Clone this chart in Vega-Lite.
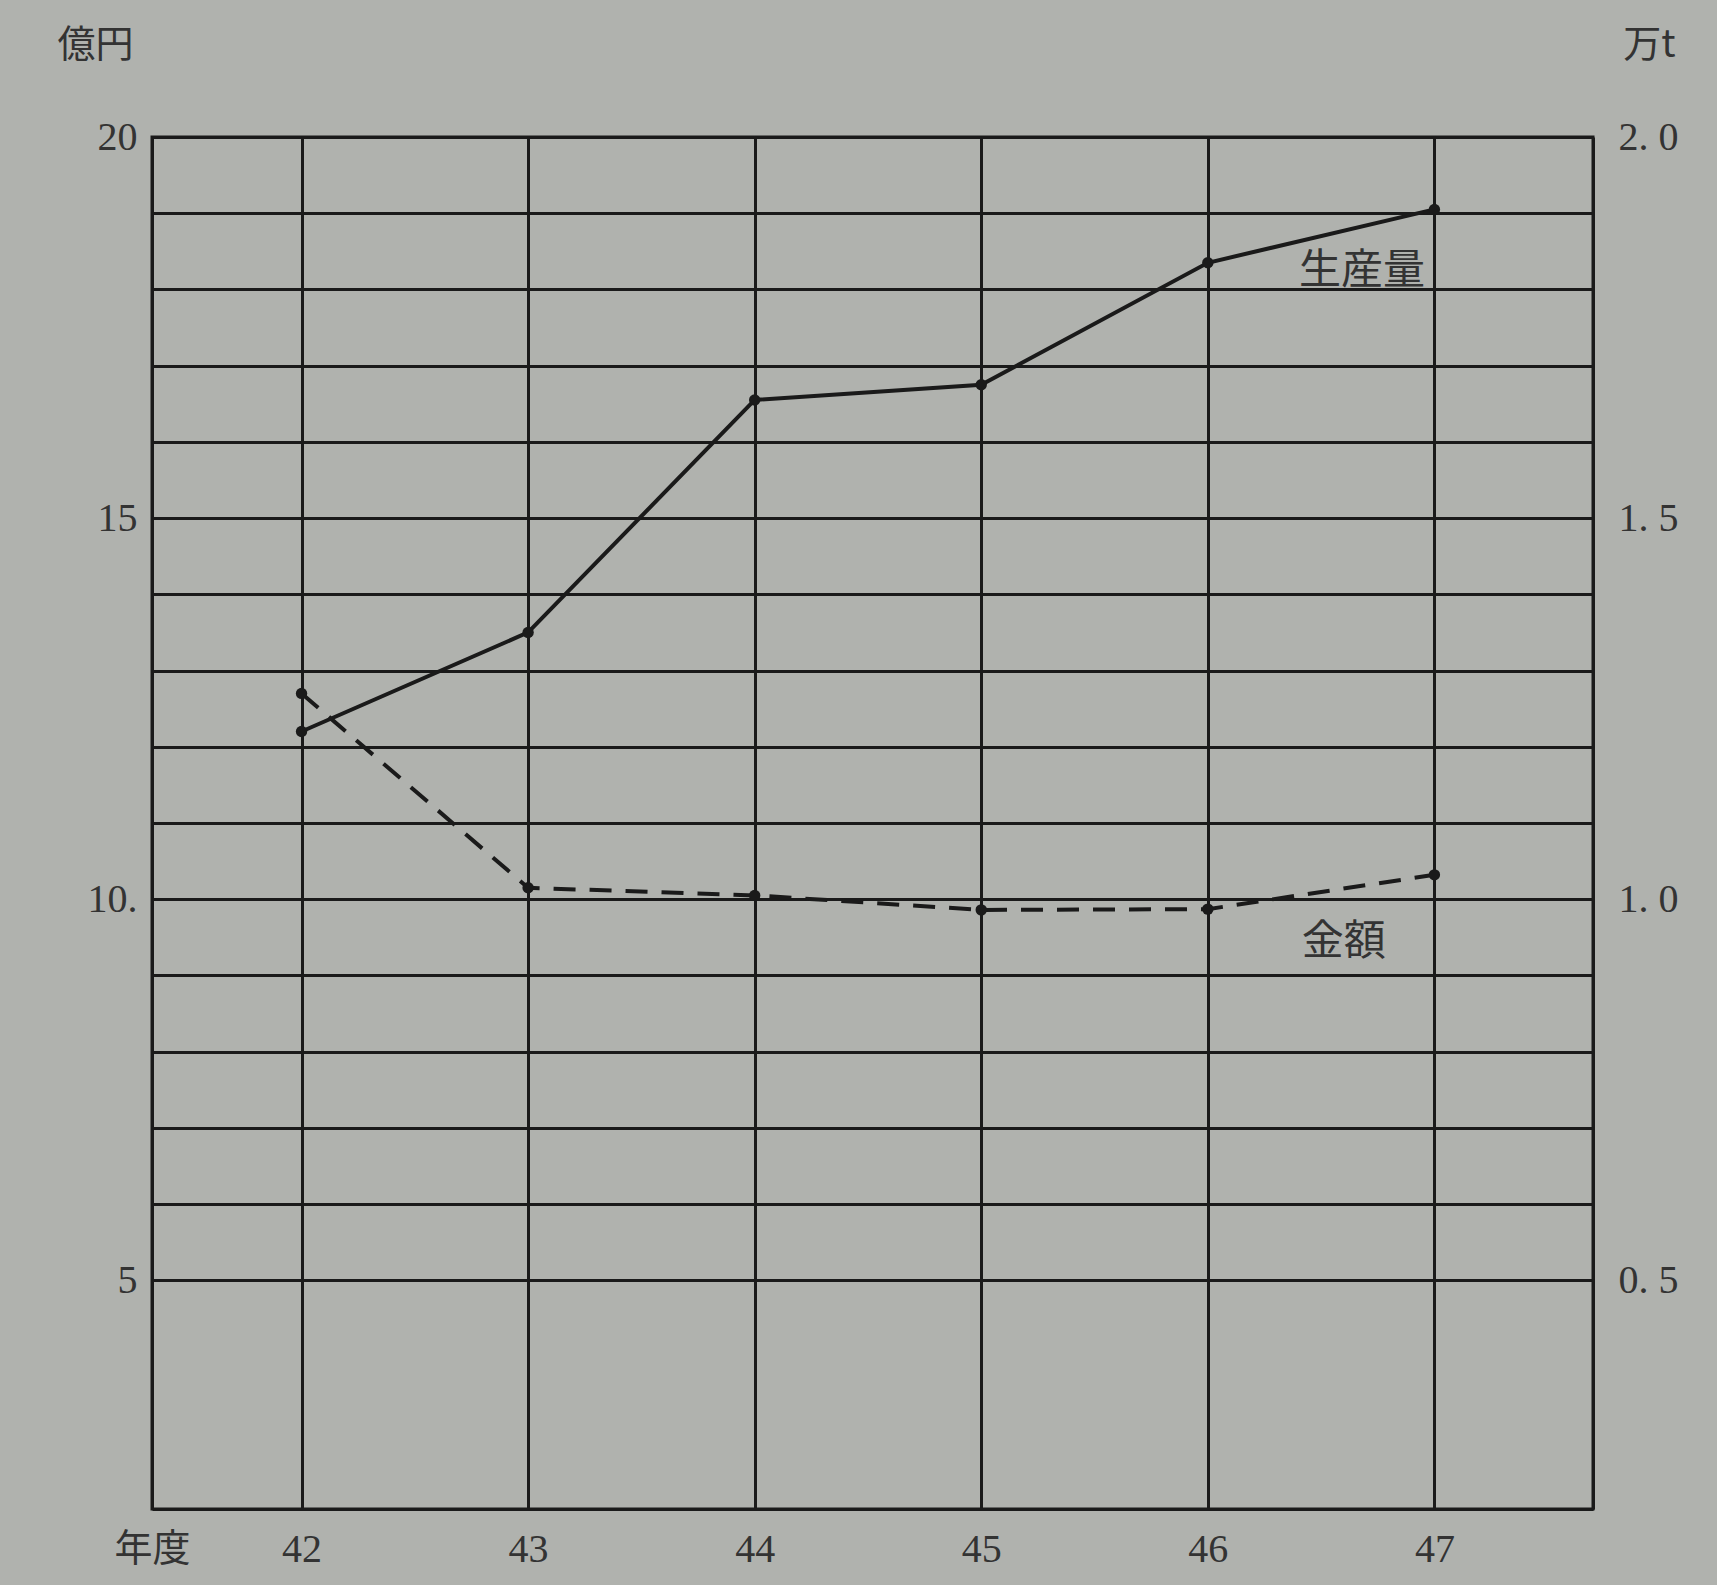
{
  "$schema": "https://vega.github.io/schema/vega-lite/v6.json",
  "width": 1441,
  "height": 1372,
  "autosize": {"type": "none"},
  "padding": {"left": 152, "top": 137, "right": 124, "bottom": 76},
  "background": "#b0b2ae",
  "config": {
    "view": {"stroke": "#1a1a1a", "strokeWidth": 3},
    "axis": {
      "labelFont": "Liberation Serif",
      "labelFontSize": 40,
      "labelColor": "#333333",
      "titleFont": "Noto Sans CJK JP",
      "titleFontSize": 38,
      "titleFontWeight": "normal",
      "titleColor": "#333333",
      "titleAngle": 0,
      "titleAlign": "center",
      "titleBaseline": "middle",
      "domainColor": "#1a1a1a",
      "domainWidth": 3,
      "gridColor": "#1a1a1a",
      "gridWidth": 3,
      "gridOpacity": 1,
      "ticks": false
    }
  },
  "datasets": {
    "kingaku": [
      {"year": 42, "value": 12.7},
      {"year": 43, "value": 10.15},
      {"year": 44, "value": 10.05},
      {"year": 45, "value": 9.86},
      {"year": 46, "value": 9.87},
      {"year": 47, "value": 10.32}
    ],
    "seisan": [
      {"year": 42, "value": 1.22},
      {"year": 43, "value": 1.35},
      {"year": 44, "value": 1.655},
      {"year": 45, "value": 1.675},
      {"year": 46, "value": 1.835},
      {"year": 47, "value": 1.905}
    ],
    "kingakuLabel": [{"year": 46.6, "value": 9.44, "label": "金額"}],
    "seisanLabel": [{"year": 46.68, "value": 1.824, "label": "生産量"}]
  },
  "layer": [
    {
      "encoding": {
        "x": {
          "field": "year",
          "type": "quantitative",
          "scale": {"domain": [41.34, 47.7], "nice": false, "zero": false},
          "axis": {
            "values": [42, 43, 44, 45, 46, 47],
            "grid": true,
            "format": "d",
            "labelPadding": 20,
            "title": "年度",
            "titleX": 0,
            "titleY": 40
          }
        },
        "y": {
          "field": "value",
          "type": "quantitative",
          "scale": {"domain": [2, 20], "nice": false, "zero": false},
          "axis": {
            "orient": "left",
            "values": [5, 6, 7, 8, 9, 10, 11, 12, 13, 14, 15, 16, 17, 18, 19, 20],
            "labelExpr": "datum.value % 5 == 0 ? (datum.value == 10 ? '10.' : format(datum.value, 'd')) : ''",
            "grid": true,
            "labelPadding": 15,
            "title": "億円",
            "titleX": -57,
            "titleY": -92
          }
        }
      },
      "layer": [
        {
          "data": {"name": "kingaku"},
          "mark": {"type": "line", "color": "#1a1a1a", "strokeWidth": 4, "strokeDash": [22, 14]}
        },
        {
          "data": {"name": "kingaku"},
          "mark": {"type": "point", "filled": true, "color": "#1a1a1a", "size": 130, "opacity": 1}
        },
        {
          "data": {"name": "kingakuLabel"},
          "mark": {"type": "text", "font": "Noto Sans CJK JP", "fontSize": 42, "color": "#333333", "align": "center", "baseline": "middle"},
          "encoding": {"text": {"field": "label"}}
        }
      ]
    },
    {
      "encoding": {
        "x": {
          "field": "year",
          "type": "quantitative",
          "scale": {"domain": [41.34, 47.7], "nice": false, "zero": false},
          "axis": {
            "values": [42, 43, 44, 45, 46, 47],
            "grid": true,
            "format": "d",
            "labelPadding": 20,
            "title": "年度",
            "titleX": 0,
            "titleY": 40
          }
        },
        "y": {
          "field": "value",
          "type": "quantitative",
          "scale": {"domain": [0.2, 2.0], "nice": false, "zero": false},
          "axis": {
            "orient": "right",
            "values": [0.5, 1.0, 1.5, 2.0],
            "labelExpr": "replace(format(datum.value, '.1f'), '.', '. ')",
            "grid": false,
            "labelPadding": 25,
            "title": "万t",
            "titleX": 56,
            "titleY": -92
          }
        }
      },
      "layer": [
        {
          "data": {"name": "seisan"},
          "mark": {"type": "line", "color": "#1a1a1a", "strokeWidth": 4}
        },
        {
          "data": {"name": "seisan"},
          "mark": {"type": "point", "filled": true, "color": "#1a1a1a", "size": 130, "opacity": 1}
        },
        {
          "data": {"name": "seisanLabel"},
          "mark": {"type": "text", "font": "Noto Sans CJK JP", "fontSize": 42, "color": "#333333", "align": "center", "baseline": "middle"},
          "encoding": {"text": {"field": "label"}}
        }
      ]
    }
  ],
  "resolve": {"scale": {"y": "independent"}}
}
